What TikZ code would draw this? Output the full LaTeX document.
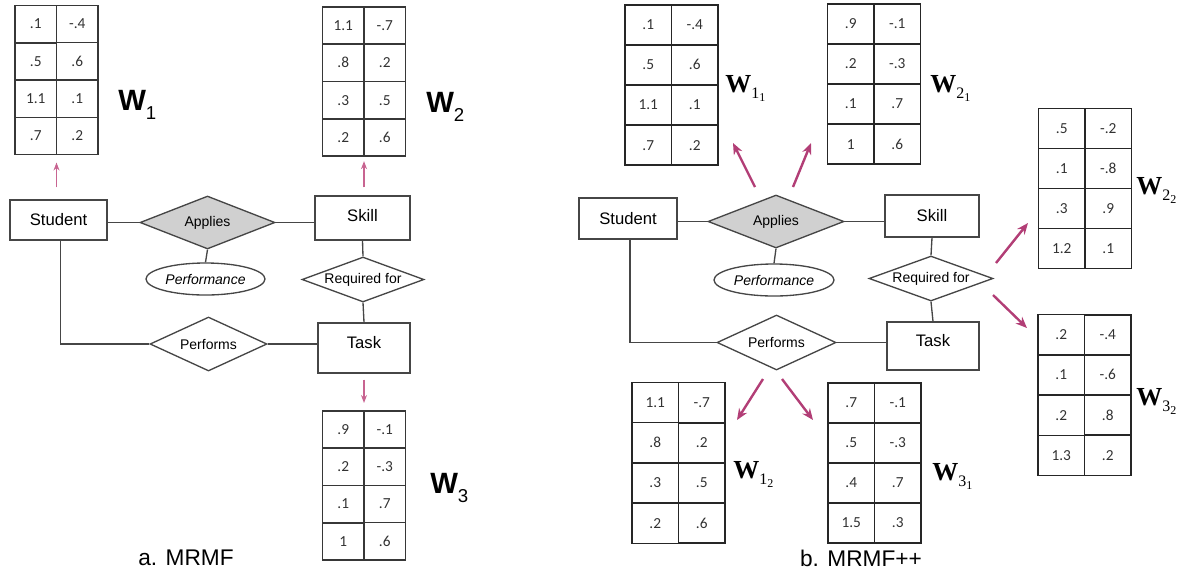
\documentclass[tikz,border=0pt]{standalone}
\usepackage{fontspec}
\setmainfont{Liberation Sans}
\newfontfamily\numfont{Carlito}
\newfontfamily\serifw{Liberation Serif}
\usetikzlibrary{shapes.geometric,arrows.meta,matrix}

\definecolor{edgegray}{RGB}{70,70,70}
\definecolor{relfill}{RGB}{208,208,208}
\definecolor{cellline}{RGB}{55,55,55}
\definecolor{numtext}{RGB}{50,50,50}
\definecolor{arrowpink}{RGB}{200,100,145}
\definecolor{arrowmaroon}{RGB}{178,62,118}
\def\u{0.75pt}

\tikzset{
  entity/.style={draw=edgegray, line width=1pt, rectangle, inner sep=0pt,
    font=\fontsize{12.5}{14}\selectfont},
  relation/.style={draw=edgegray, line width=1pt, diamond, inner sep=0pt,
    aspect=2.6, font=\fontsize{10.5}{12}\selectfont},
  attr/.style={draw=edgegray, line width=1pt, ellipse, inner sep=0pt,
    font=\itshape\fontsize{10.5}{12}\selectfont},
  link/.style={draw=edgegray, line width=1pt},
  cellL/.style={draw=cellline, line width=1.1pt, minimum width=41.5*\u,
    minimum height=37.2*\u, inner sep=0pt, text=numtext,
    font=\numfont\fontsize{11.5}{12}\selectfont},
  cellR/.style={draw=black!85, line width=1.1pt, minimum width=46.5*\u,
    minimum height=40*\u, inner sep=0pt, text=numtext,
    font=\numfont\fontsize{11.5}{12}\selectfont},
  wmatL/.style={matrix of nodes, nodes={cellL}, column sep=-1.1pt,
    row sep=-1.1pt, inner sep=0pt},
  wmatR/.style={matrix of nodes, nodes={cellR}, column sep=-1.1pt,
    row sep=-1.1pt, inner sep=0pt},
  wlabL/.style={anchor=base west, inner sep=0pt,
    font=\bfseries\fontsize{22}{24}\selectfont},
  wlabR/.style={anchor=base west, inner sep=0pt,
    font=\serifw\bfseries\fontsize{19.5}{22}\selectfont},
  thinarrow/.style={draw=arrowpink, line width=0.8pt,
    -{Stealth[length=6pt,width=4.5pt]}},
  thickarrow/.style={draw=arrowmaroon, line width=1.8pt,
    -{Stealth[length=8.5pt,width=7pt]}},
  caption/.style={anchor=base, inner sep=0pt,
    font=\fontsize{17}{20}\selectfont}
}

\newcommand\subL[1]{\raisebox{-7pt}{\mdseries\fontsize{14}{15}\selectfont #1}}
\newcommand\subR[2]{\raisebox{-4.5pt}{\mdseries\fontsize{12}{13}\selectfont #1\raisebox{-2.5pt}{\fontsize{9}{10}\selectfont #2}}}

\begin{document}
\begin{tikzpicture}[x=0.75pt,y=-0.75pt]
\useasboundingbox (0,0) rectangle (1186,576);

% ---------------- a. MRMF ----------------
\node (StuA) [entity, minimum width=97*\u, minimum height=40*\u] at (58.5,220) {Student};
\node (SkiA) [entity, minimum width=95*\u, minimum height=44*\u,
  text height=9pt, text depth=4.5pt] at (362.5,218) {Skill};
\node (TasA) [entity, minimum width=92*\u, minimum height=50*\u,
  text height=9pt, text depth=9pt] at (364,348) {Task};
\node (AppA) [relation, fill=relfill, minimum width=135*\u, minimum height=53*\u] at (207.5,222.5) {Applies};
\node (ReqA) [relation, aspect=2.7, minimum width=122*\u, minimum height=45*\u] at (363,279.5) {Required for};
\node (PerA) [relation, aspect=2.2, minimum width=117*\u, minimum height=54*\u] at (208.5,344) {Performs};
\node (PfmA) [attr, minimum width=119*\u, minimum height=32*\u] at (205.5,279) {Performance};

\draw[link] (AppA.west) -- (AppA.west -| StuA.east);
\draw[link] (AppA.east) -- (AppA.east -| SkiA.west);
\draw[link] (AppA.south) -- (PfmA.north);
\draw[link] (SkiA.south) -- (ReqA.north);
\draw[link] (ReqA.south) -- (TasA.north);
\draw[link] ([xshift=2*\u]StuA.south) |- (PerA.west);
\draw[link] (PerA.east) -- (PerA.east -| TasA.west);

\matrix (W1A) [wmatL] at (56.5,80) {
  .1 & -.4 \\ .5 & .6 \\ 1.1 & .1 \\ .7 & .2 \\};
\matrix (W2A) [wmatL] at (364,81.5) {
  1.1 & -.7 \\ .8 & .2 \\ .3 & .5 \\ .2 & .6 \\};
\matrix (W3A) [wmatL] at (364,485.5) {
  .9 & -.1 \\ .2 & -.3 \\ .1 & .7 \\ 1 & .6 \\};

\node (LW1A) [wlabL] at (118,110) {W\subL{1}};
\node (LW2A) [wlabL] at (426,112) {W\subL{2}};
\node (LW3A) [wlabL] at (430,493) {W\subL{3}};

\draw[thinarrow, shorten <=12*\u, shorten >=7*\u] (W1A.south |- StuA.north) -- (W1A.south);
\draw[thinarrow, shorten <=8*\u, shorten >=4*\u] (W2A.south |- SkiA.north) -- (W2A.south);
\draw[thinarrow, shorten <=6*\u, shorten >=7*\u] (W3A.north |- TasA.south) -- (W3A.north);

\node (CapA) [caption] at (186,565) {a. MRMF};

% ---------------- b. MRMF++ ----------------
\node (StuB) [entity, minimum width=98*\u, minimum height=41*\u] at (628,218.5) {Student};
\node (SkiB) [entity, minimum width=94*\u, minimum height=42*\u] at (932,216) {Skill};
\node (TasB) [entity, minimum width=92*\u, minimum height=48*\u,
  text height=9pt, text depth=9pt] at (933,346) {Task};
\node (AppB) [relation, fill=relfill, minimum width=136*\u, minimum height=53*\u] at (776,221.5) {Applies};
\node (ReqB) [relation, aspect=2.75, minimum width=124*\u, minimum height=45*\u] at (931,278.5) {Required for};
\node (PerB) [relation, aspect=2.2, minimum width=119*\u, minimum height=55*\u] at (776.5,342.5) {Performs};
\node (PfmB) [attr, minimum width=120*\u, minimum height=32*\u] at (774,280) {Performance};

\draw[link] (AppB.west) -- (AppB.west -| StuB.east);
\draw[link] (AppB.east) -- (AppB.east -| SkiB.west);
\draw[link] (AppB.south) -- (PfmB.north);
\draw[link] (SkiB.south) -- (ReqB.north);
\draw[link] (ReqB.south) -- (TasB.north);
\draw[link] ([xshift=2*\u]StuB.south) |- (PerB.west);
\draw[link] (PerB.east) -- (PerB.east -| TasB.west);

\matrix (W11) [wmatR] at (671.5,85) {
  .1 & -.4 \\ .5 & .6 \\ 1.1 & .1 \\ .7 & .2 \\};
\matrix (W21) [wmatR] at (874,84) {
  .9 & -.1 \\ .2 & -.3 \\ .1 & .7 \\ 1 & .6 \\};
\matrix (W22) [wmatR] at (1085,188.5) {
  .5 & -.2 \\ .1 & -.8 \\ .3 & .9 \\ 1.2 & .1 \\};
\matrix (W32) [wmatR] at (1084.5,395) {
  .2 & -.4 \\ .1 & -.6 \\ .2 & .8 \\ 1.3 & .2 \\};
\matrix (W12) [wmatR] at (678.5,463) {
  1.1 & -.7 \\ .8 & .2 \\ .3 & .5 \\ .2 & .6 \\};
\matrix (W31) [wmatR] at (874.5,463) {
  .7 & -.1 \\ .5 & -.3 \\ .4 & .7 \\ 1.5 & .3 \\};

\node (LW11) [wlabR] at (725,92) {W\subR{1}{1}};
\node (LW21) [wlabR] at (930,92) {W\subR{2}{1}};
\node (LW22) [wlabR] at (1136,194) {W\subR{2}{2}};
\node (LW32) [wlabR] at (1136,405) {W\subR{3}{2}};
\node (LW12) [wlabR] at (733,478) {W\subR{1}{2}};
\node (LW31) [wlabR] at (932,480) {W\subR{3}{1}};

% arrow ends around the relationship diamonds
\coordinate (a1s) at (755,187); \coordinate (a1e) at (733,143);
\coordinate (a2s) at (793,187); \coordinate (a2e) at (811,143);
\coordinate (p1s) at (763,379); \coordinate (p1e) at (737,420);
\coordinate (p2s) at (782,379); \coordinate (p2e) at (813,420);
\coordinate (r1s) at (996,263); \coordinate (r1e) at (1028,223);
\coordinate (r2s) at (993,295); \coordinate (r2e) at (1027,328);

\draw[thickarrow] (a1s) -- (a1e);
\draw[thickarrow] (a2s) -- (a2e);
\draw[thickarrow] (p1s) -- (p1e);
\draw[thickarrow] (p2s) -- (p2e);
\draw[thickarrow] (r1s) -- (r1e);
\draw[thickarrow] (r2s) -- (r2e);

\node (CapB) [caption] at (861,566) {b. MRMF++};
\end{tikzpicture}
\end{document}
